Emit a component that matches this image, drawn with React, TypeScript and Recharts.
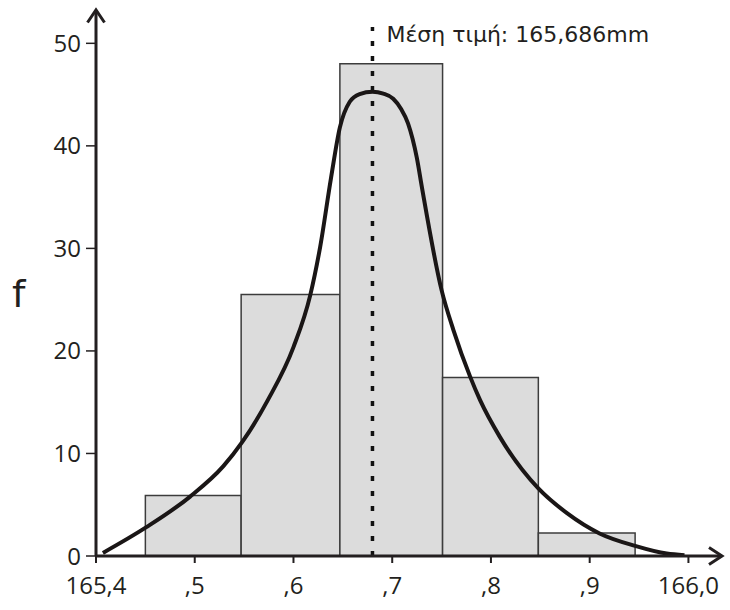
import React from 'react';
import {
  ComposedChart, Line, XAxis, YAxis, ReferenceArea, ReferenceLine, ReferenceDot, Label
} from 'recharts';

// histogram bins (edges) and their frequencies
const binEdges = [165.45, 165.547, 165.647, 165.751, 165.848, 165.946];
const binFreq = [5.9, 25.5, 48, 17.4, 2.25];

// fitted curve
const curveX = [
  165.407, 165.451, 165.495, 165.529, 165.548, 165.574, 165.6, 165.617, 165.627,
  165.638, 165.647, 165.657, 165.667, 165.68, 165.691, 165.701, 165.709,
  165.716, 165.725, 165.73, 165.75, 165.762, 165.779,
  165.789, 165.809, 165.848, 165.877, 165.91, 165.946, 165.978, 165.996,
];
const curveF = [
  0.3, 2.81, 5.77, 8.76, 11.1, 15.2, 20.37, 25.44, 30.13,
  36.86, 41.8, 44.3, 45.05, 45.28, 45.1, 44.6, 43.6,
  42.2, 38.8, 36.0, 25.93, 22.03, 17.47,
  15.2, 11.62, 6.59, 4.18, 2.2, 0.99, 0.24, 0.08,
];

const xTicks = [165.4, 165.5, 165.6, 165.7, 165.8, 165.9, 166.0];
const xTickLabels = ['165,4', ',5', ',6', ',7', ',8', ',9', '166,0'];
const yTicks = [0, 10, 20, 30, 40, 50];

const meanValue = 165.68;
const meanLabel = 'Μέση τιμή: 165,686mm';
const yLabel = 'f';

const X_MIN = 165.4;
const X_MAX = 166.034;
const Y_MAX = 53.25;

const INK = '#231f20';

const curveData = curveX.map((x, i) => ({ x, f: curveF[i] }));

const fmtX = (v: number) => {
  const i = xTicks.findIndex((t) => Math.abs(t - v) < 1e-6);
  return i >= 0 ? xTickLabels[i] : '';
};

const tickStyle = { fill: INK, fontSize: 24, fontFamily: '"Open Sans", sans-serif' };

const UpArrow = ({ cx, cy }: any) => (
  <path d={`M${cx - 8.5},${cy + 12.5} L${cx},${cy} L${cx + 8.5},${cy + 12.5}`}
    fill="none" stroke={INK} strokeWidth={3} />
);

const RightArrow = ({ cx, cy }: any) => (
  <path d={`M${cx - 13},${cy - 8.5} L${cx},${cy} L${cx - 13},${cy + 8.5}`}
    fill="none" stroke={INK} strokeWidth={3} />
);

export default function App() {
  return (
    <div style={{ position: 'absolute', left: 0, top: 0, background: '#fff' }}>
      <ComposedChart
        width={730}
        height={610}
        data={curveData}
        margin={{ top: 10, right: 8, left: 36, bottom: 24 }}
      >
        <XAxis
          dataKey="x"
          type="number"
          domain={[X_MIN, X_MAX]}
          allowDataOverflow
          ticks={xTicks}
          tickFormatter={fmtX}
          tick={tickStyle}
          tickSize={7}
          tickMargin={14}
          height={30}
          axisLine={{ stroke: INK, strokeWidth: 3 }}
          tickLine={{ stroke: INK, strokeWidth: 2 }}
        />
        <YAxis
          type="number"
          domain={[0, Y_MAX]}
          allowDataOverflow
          ticks={yTicks}
          tick={tickStyle}
          tickSize={10}
          tickMargin={5}
          width={60}
          axisLine={{ stroke: INK, strokeWidth: 3 }}
          tickLine={{ stroke: INK, strokeWidth: 1.5 }}
        >
          <Label
            content={({ viewBox }: any) => (
              <text x={viewBox.x - 24} y={viewBox.y + viewBox.height / 2 + 24}
                fontSize={38} fontFamily='"DejaVu Sans", sans-serif' fill={INK}>
                {yLabel}
              </text>
            )}
          />
        </YAxis>

        {binFreq.map((f, i) => (
          <ReferenceArea
            key={i}
            x1={binEdges[i]}
            x2={binEdges[i + 1]}
            y1={0}
            y2={f}
            fill="#dcdcdc"
            fillOpacity={1}
            stroke="#3c3c3c"
            strokeWidth={1.5}
          />
        ))}

        <ReferenceLine
          segment={[{ x: meanValue, y: 0 }, { x: meanValue, y: 51.6 }]}
          stroke="#111"
          strokeWidth={3.5}
          strokeDasharray="5 10"
        >
          <Label
            content={({ viewBox }: any) => (
              <text x={viewBox.x + 14} y={viewBox.y + 15}
                fontSize={22} fontFamily='"DejaVu Sans", sans-serif' fill={INK}>
                {meanLabel}
              </text>
            )}
          />
        </ReferenceLine>

        <Line
          dataKey="f"
          type="monotone"
          stroke="#1a1616"
          strokeWidth={4}
          dot={false}
          activeDot={false}
          isAnimationActive={false}
        />

        <ReferenceDot x={X_MIN} y={Y_MAX} r={0} shape={UpArrow} />
        <ReferenceDot x={X_MAX} y={0} r={0} shape={RightArrow} />
      </ComposedChart>
    </div>
  );
}
